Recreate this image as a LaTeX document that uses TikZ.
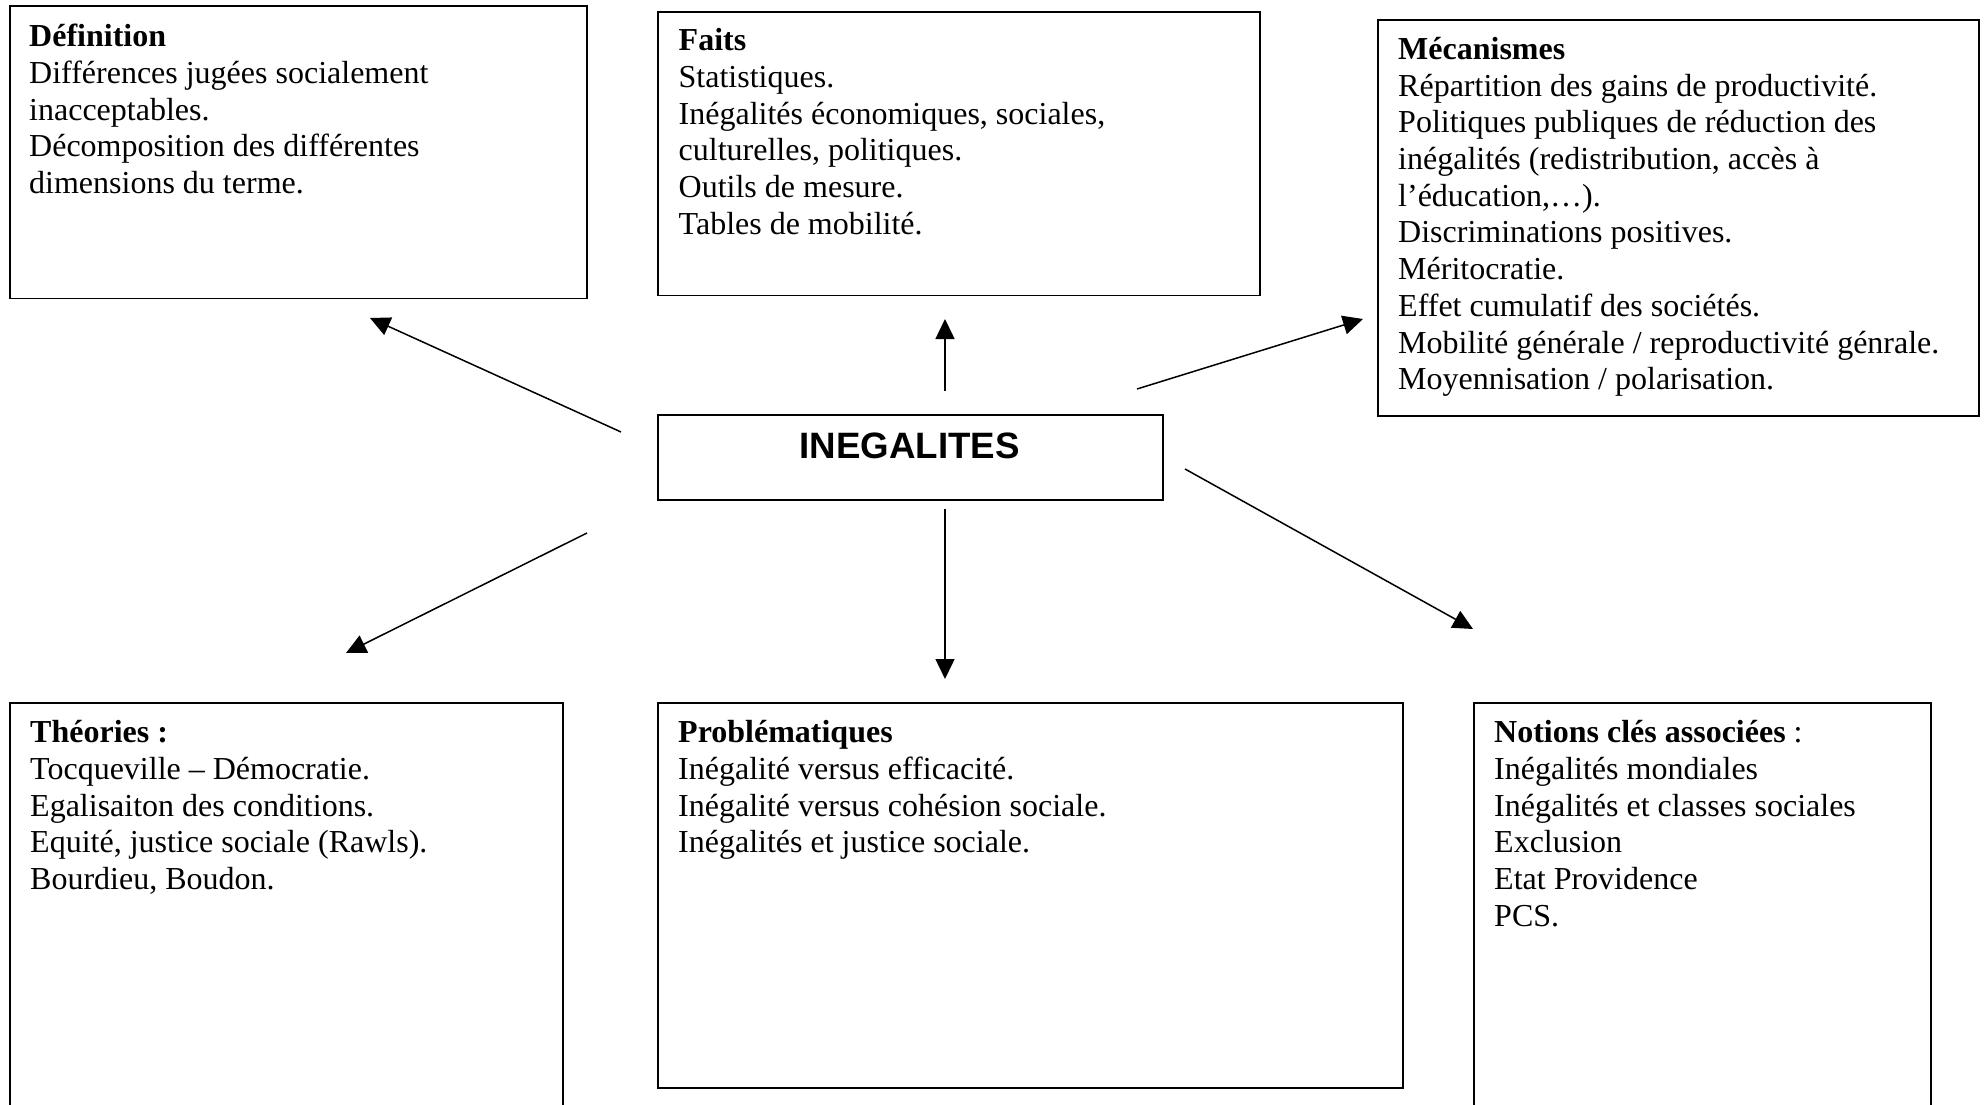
\documentclass[tikz,border=0pt]{standalone}
\usepackage{fontspec}
\setmainfont{Liberation Serif}[Ligatures=NoCommon]
\newfontfamily\inegfont{Liberation Sans}
\usetikzlibrary{arrows.meta}
\newcommand\bodysz{\fontsize{32pt}{36.7pt}\selectfont}
\newcommand\nsp{\spaceskip=0pt\xspaceskip=0pt\relax}
\begin{document}
\begin{tikzpicture}[x=1pt,y=-1pt,
  box/.style={draw, line width=1.6pt, anchor=north west, inner sep=0pt},
  txt/.style={anchor=north west, inner sep=0pt, align=left, text width=640pt, font=\bodysz},
  arr/.style={line width=1.5pt, -{Triangle[length=20pt,width=19pt]}}
]
\useasboundingbox[fill=white] (0,0) rectangle (1984,1105);

% boxes
\node[box, minimum width=577pt, minimum height=292pt] (def) at (9,5.5) {};
\node[box, minimum width=602pt, minimum height=283pt] (faits) at (657,11.5) {};
\node[box, minimum width=601pt, minimum height=396pt] (meca) at (1377,19.3) {};
\node[box, minimum width=505pt, minimum height=85pt] (ineg) at (657,414) {};
\node[box, minimum width=553pt, minimum height=430pt] (theo) at (9,702) {};
\node[box, minimum width=745pt, minimum height=385pt] (prob) at (657,702) {};
\node[box, minimum width=457pt, minimum height=430pt] (notions) at (1473,702) {};

% texts
\node[txt] (deftxt) at (29,21.0) {\nsp\strut\textbf{Définition}\\
Différences jugées socialement\\
inacceptables.\\
Décomposition des différentes\\
dimensions du terme.};

\node[txt] (faitstxt) at (678.5,25.0) {\nsp\strut\textbf{Faits}\\
Statistiques.\\
Inégalités économiques, sociales,\\
culturelles, politiques.\\
Outils de mesure.\\
Tables de mobilité.};

\node[txt] (mecatxt) at (1398,33.6) {\nsp\strut\textbf{Mécanismes}\\
Répartition des gains de productivité.\\
Politiques publiques de réduction des\\
inégalités (redistribution, accès à\\
l’éducation,…).\\
Discriminations positives.\\
Méritocratie.\\
Effet cumulatif des sociétés.\\
Mobilité générale / reproductivité génrale.\\
Moyennisation / polarisation.};

\node[anchor=base, inner sep=0pt, font=\inegfont\bfseries\fontsize{36.7pt}{40pt}\selectfont] (inegtxt) at (909.5,458.3) {INEGALITES};

\node[txt] (theotxt) at (30,716.8) {\nsp\strut\textbf{Théories :}\\
Tocqueville – Démocratie.\\
Egalisaiton des conditions.\\
Equité, justice sociale (Rawls).\\
Bourdieu, Boudon.};

\node[txt] (probtxt) at (678,716.8) {\nsp\strut\textbf{Problématiques}\\
Inégalité versus efficacité.\\
Inégalité versus cohésion sociale.\\
Inégalités et justice sociale.};

\node[txt] (notionstxt) at (1494,716.8) {\nsp\strut\textbf{Notions clés associées} :\\
Inégalités mondiales\\
Inégalités et classes sociales\\
Exclusion\\
Etat Providence\\
PCS.};

% arrow end points
\coordinate (a1s) at (621,432);  \coordinate (a1e) at (370,318);
\coordinate (a2s) at (945,391);  \coordinate (a2e) at (945,319);
\coordinate (a3s) at (1137,389); \coordinate (a3e) at (1363,319);
\coordinate (a4s) at (587,533);  \coordinate (a4e) at (346,653);
\coordinate (a5s) at (945,509);  \coordinate (a5e) at (945,679);
\coordinate (a6s) at (1185,469); \coordinate (a6e) at (1473,629);

\draw[arr] (a1s) -- (a1e);
\draw[arr] (a2s) -- (a2e);
\draw[arr] (a3s) -- (a3e);
\draw[arr] (a4s) -- (a4e);
\draw[arr] (a5s) -- (a5e);
\draw[arr] (a6s) -- (a6e);
\end{tikzpicture}
\end{document}
